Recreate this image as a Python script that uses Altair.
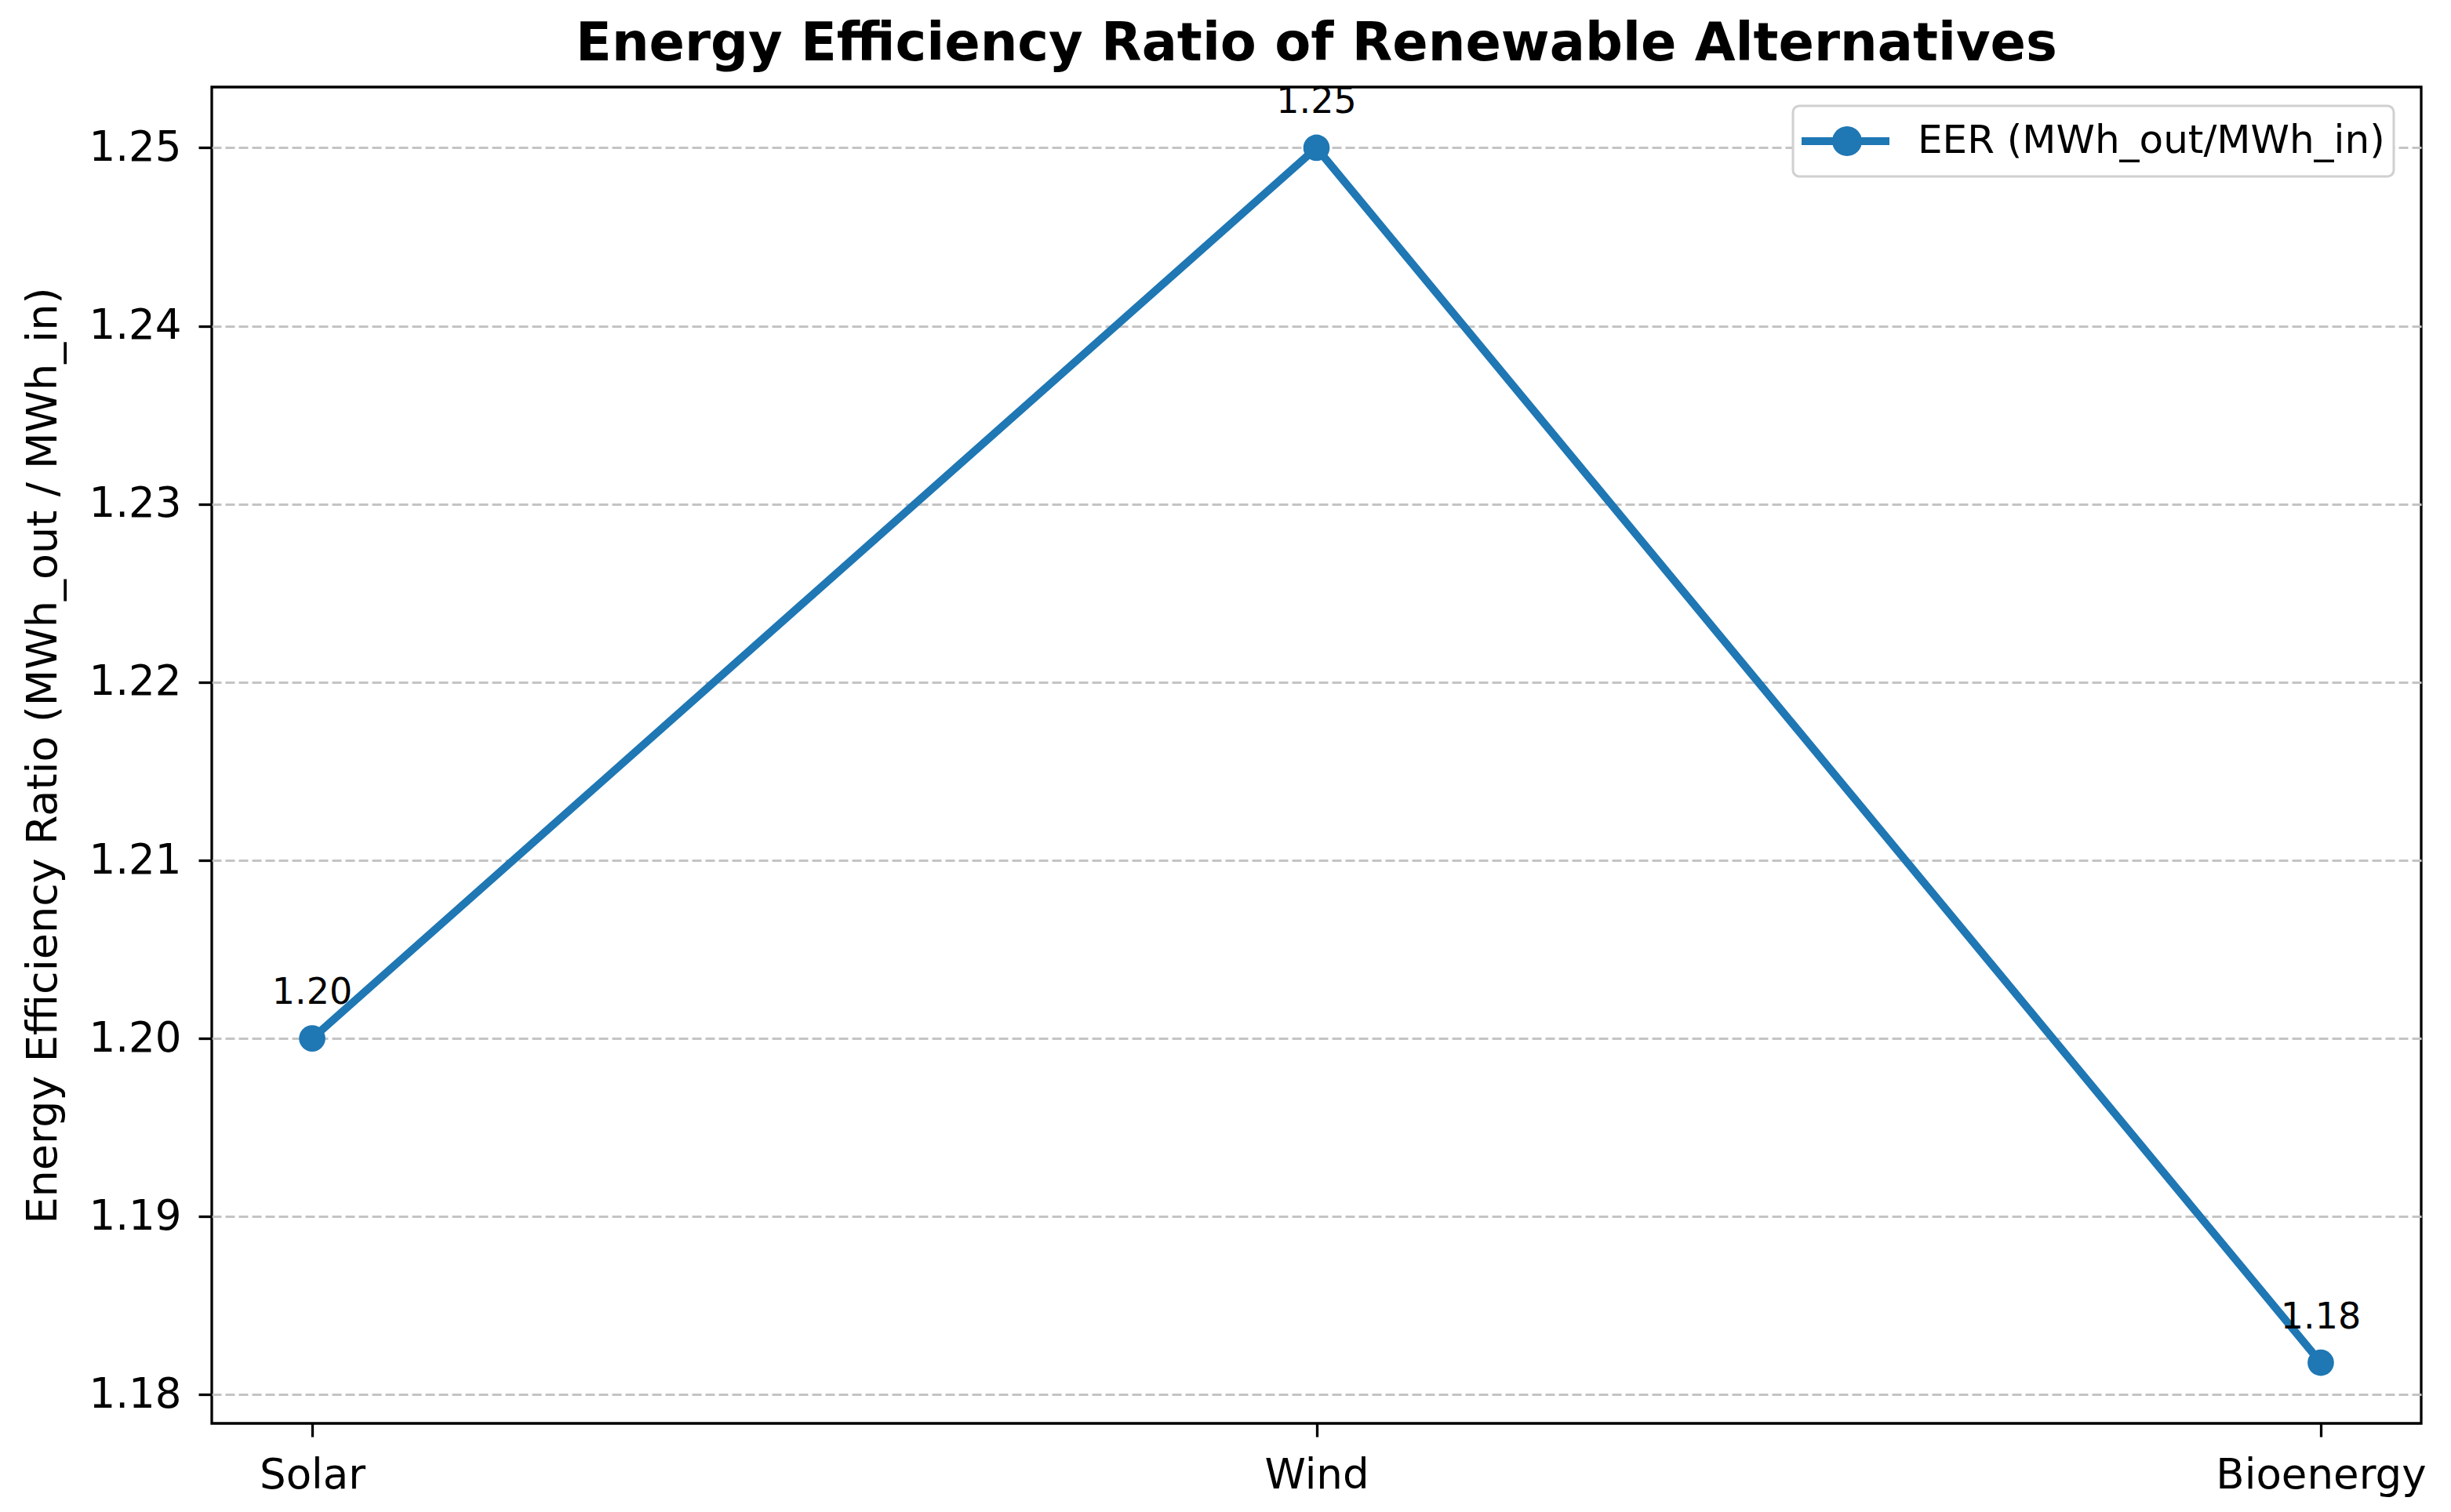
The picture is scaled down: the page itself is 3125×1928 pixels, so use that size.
import altair as alt
import pandas as pd

categories = ["Solar", "Wind", "Bioenergy"]
eer_values = [1.20, 1.25, 1.1818]
series_name = "EER (MWh_out/MWh_in)"
y_ticks = [1.18, 1.19, 1.20, 1.21, 1.22, 1.23, 1.24, 1.25]

df = pd.DataFrame({
    "source": categories,
    "eer": eer_values,
    "series": [series_name] * len(categories),
})

lo, hi = min(eer_values), max(eer_values)
m = (hi - lo) * 0.05
y_domain = [lo - m, hi + m]

BLUE = "#1f77b4"
FONT = "DejaVu Sans"

W, H = 2817, 1704

x_enc = alt.X(
    "source:N",
    sort=categories,
    scale=alt.Scale(type="point", padding=0.1),
    axis=alt.Axis(
        title=None, labelAngle=0, grid=False, domain=False,
        tickSize=17, tickWidth=3.3, tickColor="black",
        labelFont=FONT, labelFontSize=53, labelColor="black",
        labelBaseline="alphabetic", labelPadding=65, labelLimit=2000,
    ),
)
y_enc = alt.Y(
    "eer:Q",
    scale=alt.Scale(domain=y_domain, nice=False, zero=False),
    axis=alt.Axis(
        values=y_ticks, format=".2f", domain=False,
        title="Energy Efficiency Ratio (MWh_out / MWh_in)",
        titleFont=FONT, titleFontSize=54, titleFontWeight="normal", titleColor="black",
        titleX=-199, titleY=H / 2, titleBaseline="alphabetic", titleAngle=270, titleAlign="center",
        grid=True, gridDash=[12, 5], gridColor="#c4c4c4", gridWidth=3,
        tickSize=17, tickWidth=3.3, tickColor="black",
        labelFont=FONT, labelFontSize=53, labelColor="black", labelPadding=22,
    ),
)

base = alt.Chart(df)

line = base.mark_line(color=BLUE, strokeWidth=10).encode(x=x_enc, y=y_enc)

# legend handle: line segment with a circle marker (unit = sqrt(size)/2 = 34 px)
legend_path = ("M0,-1M0,1 "
               "M-1,-0.147H2.294V0.147H-1Z "
               "M1.265,0A0.559,0.559 0 1,1 0.147,0A0.559,0.559 0 1,1 1.265,0Z")

points = base.mark_circle(size=1134, opacity=1).encode(
    x=x_enc,
    y=y_enc,
    color=alt.Color(
        "series:N",
        scale=alt.Scale(domain=[series_name], range=[BLUE]),
        legend=alt.Legend(
            title=None, orient="none", legendX=2016, legendY=24,
            symbolType=legend_path, symbolSize=4624, symbolStrokeWidth=0,
            symbolOpacity=1, labelFont=FONT, labelFontSize=50, labelColor="black",
            labelOffset=80, labelLimit=2000,
        ),
    ),
)

labels = base.mark_text(
    dy=-44, baseline="alphabetic", align="center",
    font=FONT, fontSize=46, color="black",
).encode(x=x_enc, y=y_enc, text=alt.Text("eer:Q", format=".2f"))

chart = alt.layer(line, points, labels).properties(
    width=W,
    height=H,
    background="white",
    autosize=alt.AutoSizeParams(type="none"),
    padding={"left": 262, "top": 103, "right": 30, "bottom": 95},
    title=alt.TitleParams(
        text="Energy Efficiency Ratio of Renewable Alternatives",
        font=FONT, fontSize=67, fontWeight="bold", color="black",
        anchor="middle", baseline="alphabetic", offset=20, dy=57, frame="group",
    ),
).configure_view(
    stroke="black", strokeWidth=3.3
).configure_legend(
    strokeColor="#d0d0d0", strokeWidth=3, cornerRadius=8,
    fillColor="white", padding=11,
)

chart.save("out.html", embed_options={"renderer": "svg", "actions": False})
